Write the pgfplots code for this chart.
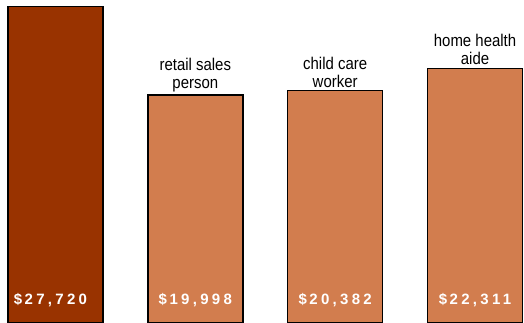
\documentclass[border=0pt]{standalone}
\usepackage{pgfplots}
\pgfplotsset{compat=1.18}
\usepackage{fontspec}
\setmainfont{Liberation Sans}
\newfontfamily\catfont[FakeStretch=0.88]{Liberation Sans}
\newfontfamily\valfont[LetterSpace=22]{Liberation Sans}
\definecolor{darkbar}{RGB}{153,51,0}
\definecolor{lightbar}{RGB}{210,125,78}
\begin{document}
\begin{tikzpicture}
\begin{axis}[name=ax,
  scale only axis, width=524pt, height=323pt,
  xmin=-0.3964, xmax=3.35, ymin=80, ymax=28278,
  hide axis, clip=true,
  /pgf/number format/.cd, 1000 sep={,}, assume math mode=true,
]
\addplot[ybar, bar shift=0pt, bar width=0.679, fill=darkbar, draw=black, line width=1.5pt,
  visualization depends on=rawy \as \rawy,
  nodes near coords={\$\,\pgfmathprintnumber{\pgfplotspointmeta}},
  every node near coord/.append style={anchor=center, text=white, font=\valfont\bfseries\fontsize{15}{16}\selectfont,
     shift={(axis direction cs:0,-\rawy)}, yshift=24pt, xshift=-5pt}]
  coordinates {(0,27720)};
\addplot[ybar, bar shift=0pt, bar width=0.679, fill=lightbar, draw=black, line width=1.5pt,
  visualization depends on=rawy \as \rawy,
  nodes near coords={\$\,\pgfmathprintnumber{\pgfplotspointmeta}},
  every node near coord/.append style={anchor=center, text=white, font=\valfont\bfseries\fontsize{15}{16}\selectfont,
     shift={(axis direction cs:0,-\rawy)}, yshift=24pt}]
  coordinates {(1,19998) (2,20382) (3,22311)};
\addplot[only marks, mark=none, point meta=explicit symbolic, nodes near coords,
  every node near coord/.append style={anchor=south, align=center, yshift=1pt, inner sep=2pt,
     font=\catfont\fontsize{17}{18}\selectfont}]
  coordinates {(1,19998) [{retail sales\\person}] (2,20382) [{child care\\worker}] (3,22311) [{home health\\aide}]};
\end{axis}
\pgfresetboundingbox
\path[use as bounding box] (ax.south west) rectangle (ax.north east);
\end{tikzpicture}
\end{document}
